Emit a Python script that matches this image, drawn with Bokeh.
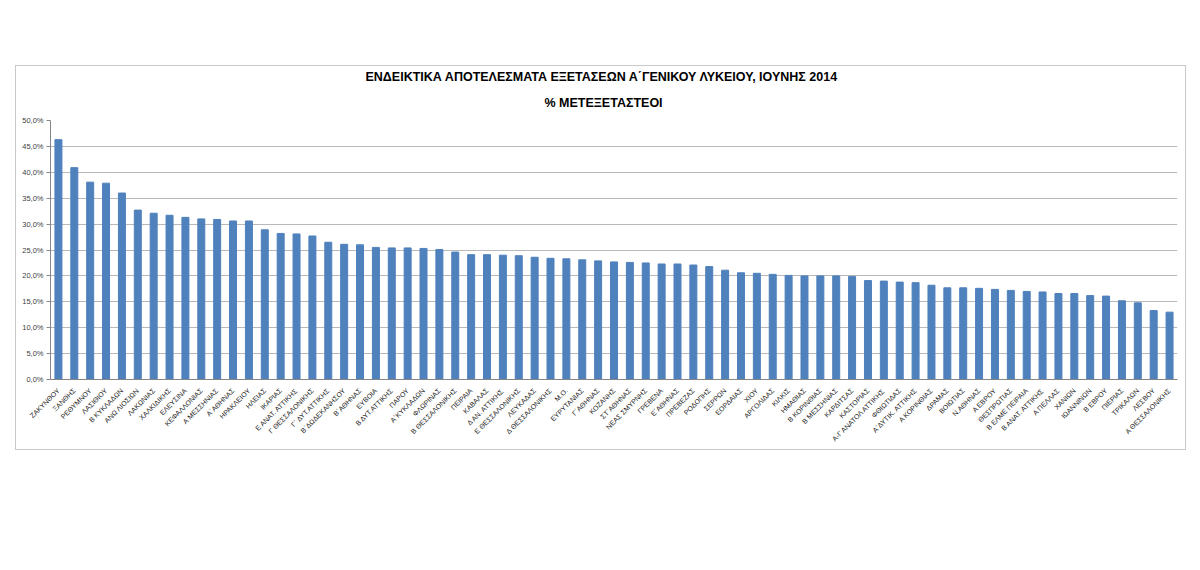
from bokeh.plotting import figure
from bokeh.models import FactorRange, Range1d, FixedTicker, Title
from bokeh.embed import file_html
from bokeh.resources import INLINE
import math

categories = [
    "ΖΑΚΥΝΘΟΥ", "ΞΑΝΘΗΣ", "ΡΕΘΥΜΝΟΥ", "ΛΑΣΙΘΙΟΥ", "Β ΚΥΚΛΑΔΩΝ", "ΑΝΩ ΛΙΟΣΙΩΝ",
    "ΛΑΚΩΝΙΑΣ", "ΧΑΛΚΙΔΙΚΗΣ", "ΕΛΕΥΣΙΝΑ", "ΚΕΦΑΛΛΟΝΙΑΣ", "Α ΜΕΣΣΗΝΙΑΣ", "Α΄ΑΘΗΝΑΣ",
    "ΗΡΑΚΛΕΙΟΥ", "ΗΛΕΙΑΣ", "ΙΚΑΡΙΑΣ", "Ε ΑΝΑΤ. ΑΤΤΙΚΗΣ", "Γ ΘΕΣΣΑΛΟΝΙΚΗΣ",
    "Γ΄ ΔΥΤ.ΑΤΤΙΚΗΣ", "Β΄ΔΩΔΕΚΑΝΗΣΟΥ", "Β΄ΑΘΗΝΑΣ", "ΕΥΒΟΙΑ", "Β ΔΥΤ.ΑΤΤΙΚΗΣ",
    "ΠΑΡΟΥ", "Α΄ΚΥΚΛΑΔΩΝ", "ΦΛΩΡΙΝΑΣ", "Β ΘΕΣΣΑΛΟΝΙΚΗΣ", "ΠΕΙΡΑΙΑ", "ΚΑΒΑΛΑΣ",
    "Δ ΑΝ. ΑΤΤΙΚΗΣ", "Ε ΘΕΣΣΑΛΟΝΙΚΗΣ", "ΛΕΥΚΑΔΑΣ", "Δ ΘΕΣΣΑΛΟΝΙΚΗΣ", "Μ.Ο.",
    "ΕΥΡΥΤΑΝΙΑΣ", "Γ΄ΑΘΗΝΑΣ", "ΚΟΖΑΝΗΣ", "ΣΤ΄ΑΘΗΝΑΣ", "ΝΕΑΣ ΣΜΥΡΝΗΣ", "ΓΡΕΒΕΝΑ",
    "Ε΄ΑΘΗΝΑΣ", "ΠΡΕΒΕΖΑΣ", "ΡΟΔΟΠΗΣ", "ΣΕΡΡΩΝ", "ΕΟΡΔΑΙΑΣ", "ΧΙΟΥ", "ΑΡΓΟΛΙΔΑΣ",
    "ΚΙΛΚΙΣ", "ΗΜΑΘΙΑΣ", "Β ΚΟΡΙΝΘΙΑΣ", "Β ΜΕΣΣΗΝΙΑΣ", "ΚΑΡΔΙΤΣΑΣ", "ΚΑΣΤΟΡΙΑΣ",
    "Α-Γ ΑΝΑΤΟΛ ΑΤΤΙΚΗΣ", "ΦΘΙΩΤΙΔΑΣ", "Α΄ΔΥΤΙΚ. ΑΤΤΙΚΗΣ", "Α ΚΟΡΙΝΘΙΑΣ", "ΔΡΑΜΑΣ",
    "ΒΟΙΩΤΙΑΣ", "Ν.ΑΘΗΝΑΣ", "Α ΕΒΡΟΥ", "ΘΕΣΠΡΩΤΙΑΣ", "Β ΕΛΜΕ ΠΕΙΡΑΙΑ",
    "Β ΑΝΑΤ. ΑΤΤΙΚΗΣ", "Α ΠΕΛΛΑΣ", "ΧΑΝΙΩΝ", "ΙΩΑΝΝΙΝΩΝ", "Β ΕΒΡΟΥ", "ΠΙΕΡΙΑΣ",
    "ΤΡΙΚΑΛΩΝ", "ΛΕΣΒΟΥ", "Α ΘΕΣΣΑΛΟΝΙΚΗΣ",
]

values = [
    46.3, 40.9, 38.1, 37.9, 36.0, 32.7,
    32.1, 31.7, 31.3, 31.0, 30.9, 30.6,
    30.6, 28.9, 28.2, 28.1, 27.7,
    26.5, 26.1, 26.0, 25.5, 25.4,
    25.4, 25.3, 25.1, 24.6, 24.1, 24.1,
    24.0, 23.9, 23.6, 23.4, 23.3,
    23.1, 22.9, 22.7, 22.6, 22.5, 22.3,
    22.3, 22.1, 21.8, 21.1, 20.6, 20.5, 20.3,
    20.1, 20.0, 20.0, 20.0, 19.9, 19.1,
    19.0, 18.8, 18.7, 18.2, 17.7,
    17.7, 17.6, 17.4, 17.2, 17.0,
    16.9, 16.6, 16.6, 16.2, 16.1, 15.2,
    14.8, 13.3, 13.0,
]

y_ticks = [0, 5, 10, 15, 20, 25, 30, 35, 40, 45, 50]
y_tick_labels = ["0,0%", "5,0%", "10,0%", "15,0%", "20,0%", "25,0%",
                 "30,0%", "35,0%", "40,0%", "45,0%", "50,0%"]

title_main = "ΕΝΔΕΙΚΤΙΚΑ ΑΠΟΤΕΛΕΣΜΑΤΑ ΕΞΕΤΑΣΕΩΝ Α΄ΓΕΝΙΚΟΥ ΛΥΚΕΙΟΥ, ΙΟΥΝΗΣ 2014"
title_sub = "% ΜΕΤΕΞΕΤΑΣΤΕΟΙ"

FONT = "Liberation Sans"

p = figure(
    x_range=FactorRange(factors=categories, range_padding=0),
    y_range=Range1d(0, 50),
    width=1171, height=385,
    output_backend="svg", toolbar_location=None,
    min_border_left=34, min_border_right=10, min_border_top=54, min_border_bottom=72,
)
p.margin = (65, 0, 0, 15)
p.styles = {"border": "1px solid #c8c8c8"}

p.vbar(x=categories, top=values, width=0.44, color="#4F81BD")

p.add_layout(Title(text=title_sub, align="left", text_font=FONT, text_font_size="12.5px",
                   text_font_style="bold", text_color="#000000", standoff=22, offset=494), "above")
p.add_layout(Title(text=title_main, align="left", text_font=FONT, text_font_size="12.5px",
                   text_font_style="bold", text_color="#000000", standoff=-3, offset=315), "above")

p.outline_line_color = None
p.background_fill_color = "white"
p.border_fill_color = "white"

p.xgrid.grid_line_color = None
p.ygrid.grid_line_color = "#b8b8b8"
p.ygrid.grid_line_width = 1
p.ygrid.ticker = FixedTicker(ticks=y_ticks)

p.yaxis.ticker = FixedTicker(ticks=y_ticks)
p.yaxis.major_label_overrides = {t: l for t, l in zip(y_ticks, y_tick_labels)}
p.yaxis.major_label_text_font = FONT
p.yaxis.major_label_text_font_size = "7.5px"
p.yaxis.major_label_text_color = "#404040"
p.yaxis.axis_line_color = "#868686"
p.yaxis.major_tick_line_color = "#868686"
p.yaxis.major_tick_out = 4
p.yaxis.major_tick_in = 0
p.yaxis.minor_tick_line_color = None
p.yaxis.major_label_standoff = 3

p.xaxis.major_label_orientation = math.pi / 4
p.xaxis.major_label_text_font = FONT
p.xaxis.major_label_text_font_size = "7px"
p.xaxis.major_label_text_color = "#202020"
p.xaxis.axis_line_color = "#868686"
p.xaxis.major_tick_line_color = None
p.xaxis.minor_tick_line_color = None
p.xaxis.major_label_standoff = 4

open("out.html", "w").write(file_html(p, INLINE))
